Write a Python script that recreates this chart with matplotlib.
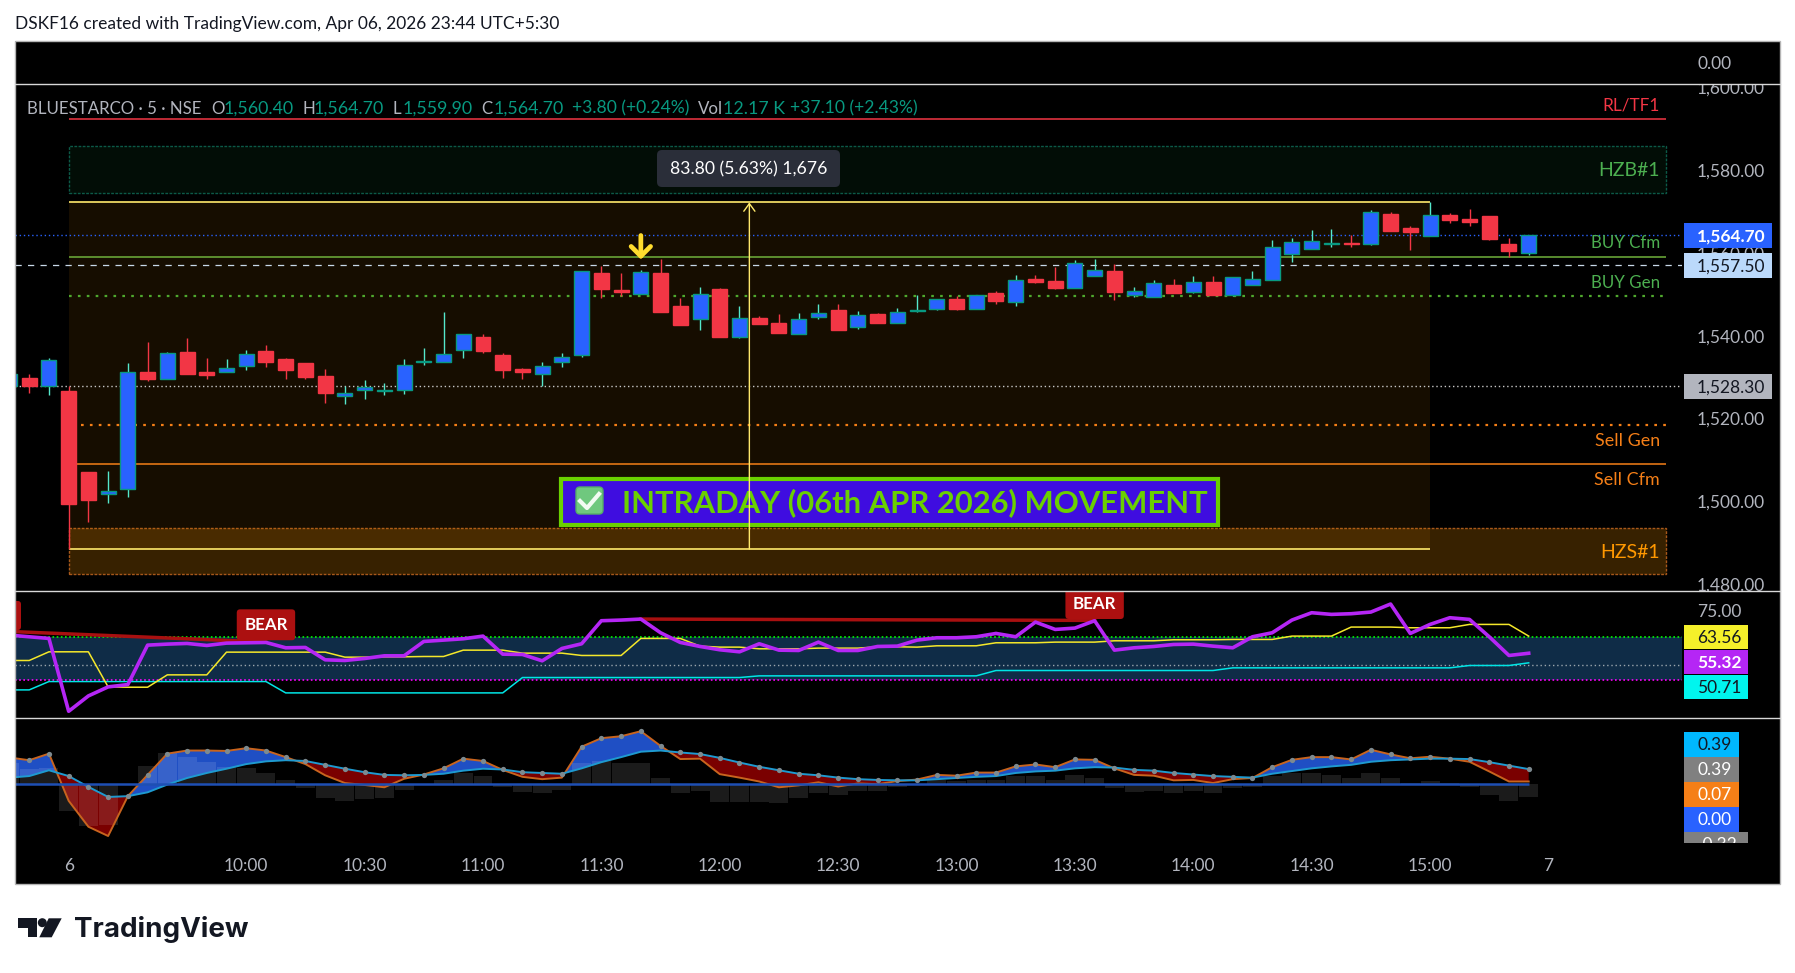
import numpy as np
import matplotlib
matplotlib.use('Agg')
import matplotlib.pyplot as plt
from matplotlib.lines import Line2D
from matplotlib.patches import Rectangle, FancyBboxPatch, Circle, Polygon
from matplotlib.transforms import Affine2D, Bbox, TransformedBbox, IdentityTransform

plt.rcParams['font.family'] = ['Lato', 'DejaVu Sans']

W, H = 1795, 973

# 5 minute bars, 0 is the 09:15 open on the 6th
bars = np.arange(-3, 75)
opens = [1528.2, 1530.3, 1528.4, 1527.1, 1507.5, 1502.3, 1503.3, 1531.7, 1529.9, 1536.5, 1531.7, 1531.8, 1533.2,
         1536.8, 1534.8, 1533.9, 1530.7, 1526.0, 1527.4, 1527.2, 1527.4, 1534.2, 1534.2, 1536.9, 1540.2, 1535.8,
         1532.4, 1531.3, 1534.0, 1535.9, 1555.6, 1551.5, 1550.6, 1555.6, 1547.7, 1544.4, 1551.8, 1540.2, 1544.8,
         1543.6, 1541.0, 1545.1, 1546.7, 1542.7, 1545.7, 1543.6, 1546.5, 1547.0, 1549.4, 1547.0, 1550.8, 1548.7,
         1554.2, 1553.7, 1552.1, 1555.0, 1556.0, 1550.4, 1549.9, 1552.7, 1551.1, 1553.5, 1550.4, 1552.8, 1554.0,
         1560.3, 1561.5, 1562.7, 1562.9, 1562.7, 1569.9, 1566.5, 1564.5, 1569.7, 1568.7, 1569.4, 1562.6, 1560.4]
highs = [1531.2, 1531.2, 1535.0, 1528.2, 1507.5, 1507.8, 1533.9, 1539.0, 1536.5, 1539.9, 1535.1, 1534.8, 1537.0,
         1538.2, 1535.1, 1533.9, 1532.4, 1528.2, 1529.8, 1529.0, 1534.8, 1537.5, 1546.2, 1541.0, 1541.0, 1536.2,
         1532.7, 1534.0, 1536.2, 1556.0, 1557.3, 1555.6, 1556.4, 1559.0, 1549.6, 1552.2, 1552.0, 1547.7, 1545.2,
         1545.7, 1546.0, 1548.1, 1548.1, 1546.5, 1546.0, 1547.2, 1550.2, 1549.3, 1550.1, 1550.2, 1551.3, 1555.1,
         1555.1, 1557.1, 1558.7, 1559.0, 1557.8, 1552.3, 1553.9, 1554.2, 1554.9, 1554.9, 1554.6, 1556.0, 1563.5,
         1564.0, 1566.0, 1566.3, 1564.7, 1570.8, 1570.4, 1567.0, 1572.7, 1570.1, 1571.1, 1569.4, 1564.1, 1564.7]
lows = [1528.2, 1526.7, 1526.2, 1488.9, 1495.5, 1500.1, 1501.6, 1529.5, 1529.9, 1531.3, 1529.9, 1531.8, 1532.3,
        1533.0, 1530.1, 1530.1, 1524.3, 1524.0, 1525.2, 1526.2, 1526.5, 1533.4, 1534.2, 1535.2, 1536.3, 1530.3,
        1530.1, 1528.2, 1533.0, 1535.4, 1549.7, 1550.1, 1550.6, 1546.3, 1543.1, 1541.9, 1540.2, 1539.9, 1543.3,
        1541.1, 1541.0, 1544.5, 1541.9, 1542.2, 1543.6, 1543.6, 1546.1, 1546.8, 1546.8, 1547.0, 1548.2, 1547.7,
        1553.2, 1551.8, 1552.1, 1555.0, 1549.0, 1549.8, 1549.9, 1550.8, 1550.9, 1550.3, 1550.1, 1552.8, 1554.0,
        1558.4, 1561.5, 1561.8, 1562.0, 1562.5, 1565.8, 1561.3, 1564.5, 1567.6, 1567.0, 1563.7, 1559.5, 1559.9]
closes = [1531.2, 1528.3, 1534.5, 1499.9, 1500.8, 1502.9, 1531.6, 1529.9, 1536.2, 1531.3, 1531.0, 1532.6, 1536.0,
          1534.2, 1532.3, 1530.6, 1526.7, 1526.6, 1528.1, 1527.35, 1533.3, 1534.35, 1536.0, 1541.0, 1536.8, 1532.3,
          1531.8, 1533.1, 1535.3, 1556.0, 1551.8, 1551.1, 1555.8, 1546.3, 1543.1, 1550.5, 1540.2, 1544.7, 1543.3,
          1541.1, 1544.4, 1545.9, 1541.9, 1545.6, 1543.6, 1546.1, 1546.7, 1549.3, 1546.9, 1550.2, 1548.9, 1553.9,
          1553.5, 1552.0, 1558.0, 1556.3, 1551.1, 1551.2, 1553.1, 1550.8, 1553.4, 1550.3, 1554.6, 1554.1, 1561.8,
          1563.1, 1563.3, 1562.9, 1562.7, 1570.5, 1565.8, 1565.6, 1569.6, 1568.5, 1568.0, 1563.9, 1561.0, 1564.7]

# RSI pane
rsi = [64.04, 63.24, 62.44, 27.42, 34.81, 39.15, 40.27, 59.22, 59.71, 60.03, 59.06, 60.19, 60.35, 60.51, 57.94,
       58.10, 52.16, 51.84, 52.80, 54.08, 54.08, 60.99, 61.63, 62.27, 63.56, 54.89, 54.73, 51.68, 57.62, 59.87,
       70.95, 71.27, 71.75, 65.17, 60.51, 58.58, 56.98, 56.01, 59.87, 56.81, 56.65, 60.67, 56.65, 56.65, 58.58,
       58.74, 61.63, 62.76, 62.76, 63.24, 64.84, 63.24, 70.31, 66.77, 67.41, 70.95, 56.81, 57.94, 58.58, 59.54,
       59.71, 58.74, 57.94, 63.24, 65.17, 71.27, 74.80, 74.00, 74.32, 75.12, 78.98, 64.84, 69.18, 72.39, 71.59,
       63.24, 54.25, 55.32]
rsi_upper = [51.84, 51.84, 56.01, 56.01, 56.01, 39.15, 38.99, 38.99, 44.93, 44.93, 44.93, 55.85, 55.85, 55.85, 55.85,
             55.85, 55.85, 53.44, 53.44, 53.60, 53.60, 53.76, 53.76, 56.81, 56.81, 56.81, 55.37, 55.37, 55.37, 54.25,
             54.25, 54.25, 62.44, 62.44, 62.44, 58.74, 58.26, 58.26, 57.46, 57.46, 57.46, 57.78, 57.78, 57.78, 58.42,
             58.42, 58.26, 58.90, 58.90, 58.90, 60.35, 60.35, 60.35, 60.67, 60.67, 60.67, 61.31, 61.31, 61.31, 61.79,
             61.79, 61.79, 61.95, 61.95, 61.95, 63.56, 63.56, 63.56, 67.90, 67.90, 67.90, 67.57, 67.57, 67.57, 69.18,
             69.18, 69.18, 63.56]
rsi_lower = [37.70, 37.70, 41.72, 41.72, 41.72, 41.72, 41.72, 41.72, 41.72, 41.72, 41.72, 41.72, 41.72, 41.72,
             36.26, 36.26, 36.26, 36.26, 36.26, 36.26, 36.26, 36.26, 36.26, 36.26, 36.26, 36.26,
             43.65, 43.65, 43.65, 43.65, 43.65, 43.65, 43.65, 43.65, 43.65, 43.65, 43.65, 43.65,
             44.45, 44.45, 44.45, 44.45, 44.45, 44.45, 44.45, 44.45, 44.45, 44.45, 44.45, 44.45,
             47.02, 47.02, 47.02, 47.02, 47.02, 47.02, 47.02, 47.02, 47.02, 47.02, 47.02, 47.02,
             48.30, 48.30, 48.30, 48.30, 48.30, 48.30, 48.30, 48.30, 48.30, 48.30, 48.30, 48.30,
             49.43, 49.43, 49.43, 50.71]

# MACD pane
macd_fast = [0.69, 0.62, 0.79, -0.43, -1.10, -1.34, -0.31, 0.24, 0.79, 0.87, 0.87, 0.86, 0.93, 0.87, 0.70, 0.52, 0.23,
             0.03, -0.02, -0.08, 0.14, 0.25, 0.41, 0.66, 0.60, 0.37, 0.19, 0.13, 0.17, 0.97, 1.19, 1.24, 1.37, 0.99,
             0.65, 0.66, 0.26, 0.17, 0.07, -0.08, -0.03, 0.05, -0.06, 0.02, 0.00, 0.08, 0.12, 0.24, 0.22, 0.30, 0.30,
             0.46, 0.51, 0.44, 0.64, 0.63, 0.41, 0.24, 0.22, 0.10, 0.11, 0.03, 0.13, 0.16, 0.44, 0.63, 0.70, 0.70,
             0.64, 0.89, 0.77, 0.67, 0.71, 0.66, 0.58, 0.33, 0.07, 0.07]
macd_slow = [0.17, 0.21, 0.36, 0.21, -0.07, -0.33, -0.31, -0.21, -0.01, 0.16, 0.29, 0.40, 0.52, 0.59, 0.62, 0.60, 0.50,
             0.40, 0.31, 0.24, 0.23, 0.24, 0.27, 0.35, 0.40, 0.38, 0.31, 0.29, 0.27, 0.41, 0.57, 0.70, 0.84, 0.87,
             0.82, 0.78, 0.68, 0.56, 0.45, 0.36, 0.27, 0.23, 0.17, 0.13, 0.11, 0.10, 0.10, 0.13, 0.16, 0.19, 0.21,
             0.29, 0.33, 0.35, 0.41, 0.44, 0.43, 0.37, 0.35, 0.29, 0.25, 0.21, 0.19, 0.17, 0.27, 0.34, 0.41, 0.46,
             0.50, 0.58, 0.62, 0.64, 0.66, 0.66, 0.65, 0.57, 0.48, 0.39]
macd_hist = [0.54, 0.38, 0.43, -0.69, -1.08, -1.05, 0.00, 0.46, 0.81, 0.70, 0.57, 0.44, 0.41, 0.28, 0.10, -0.11, -0.35,
             -0.43, -0.37, -0.35, -0.14, -0.01, 0.12, 0.30, 0.20, -0.06, -0.19, -0.22, -0.14, 0.54, 0.61, 0.54, 0.54,
             0.15, -0.22, -0.17, -0.45, -0.45, -0.45, -0.48, -0.35, -0.22, -0.27, -0.17, -0.17, -0.06, -0.03, 0.10,
             0.07, 0.12, 0.10, 0.20, 0.20, 0.12, 0.23, 0.17, -0.09, -0.19, -0.17, -0.24, -0.17, -0.22, -0.11, -0.06,
             0.20, 0.30, 0.30, 0.25, 0.15, 0.30, 0.17, 0.04, 0.07, 0.03, -0.08, -0.27, -0.43, -0.32]

price_ticks = [1480, 1500, 1520, 1540, 1560, 1580, 1600]
time_ticks = [0, 9, 15, 21, 27, 33, 39, 45, 51, 57, 63, 69, 75]
time_labels = ['6', '10:00', '10:30', '11:00', '11:30', '12:00', '12:30', '13:00', '13:30', '14:00', '14:30', '15:00', '7']

range_low, range_high = 1488.9, 1572.7
hzb = (1574.9, 1586.25)
hzs = (1482.8, 1494.0)
rl_tf1 = 1592.8
buy_cfm, buy_gen = 1559.4, 1550.1
sell_gen, sell_cfm = 1518.9, 1509.4
last_price, prev_close, day_open_line = 1564.7, 1557.5, 1528.3
rsi_bands = (62.9, 49.9, 42.7)

GREY = '#b2b5be'
UP = '#2962ff'
DOWN = '#f23645'
TEAL = '#089981'
TICK_SIZE = 12.5
px = Affine2D().scale(1, -1).translate(0, H)


def pane(top, bottom, left=15, right=1682):
    ax = fig.add_axes([left / W, 1 - bottom / H, (right - left) / W, (bottom - top) / H])
    ax.set_facecolor('black')
    for s in ax.spines.values():
        s.set_visible(False)
    ax.set_xlim(-2.72, 81.77)
    ax.set_xticks([])
    ax.yaxis.tick_right()
    ax.tick_params(axis='y', length=0, pad=10.8, labelcolor=GREY, labelsize=TICK_SIZE)
    return ax


def clip_labels(ax, top, bottom):
    box = TransformedBbox(Bbox([[1682, H - bottom], [1780, H - top]]), IdentityTransform())
    for lab in ax.get_yticklabels():
        lab.set_transform(lab.get_transform() + Affine2D().translate(0, 2))
        lab.set_clip_box(box)
        lab.set_clip_on(True)


def tag(y0, y1, text, bg, fg, right=1772, text_x=1697, bold=False):
    fig.add_artist(Rectangle((1684, y0), right - 1684, y1 - y0, transform=px, fc=bg, ec='none', zorder=6))
    fig.text(text_x, (y0 + y1) / 2 + 1, text, transform=px, color=fg, fontsize=TICK_SIZE, va='center', ha='left',
             zorder=7, fontweight='bold' if bold else 'normal')


def line_label(ax, y, text, color, size=12.4, right=1660):
    ax.annotate(text, xy=(right, 0), xycoords=px, xytext=(right, y), textcoords=px, color=color,
                fontsize=size, ha='right', va='center', annotation_clip=False)


fig = plt.figure(figsize=(W / 100, H / 100), dpi=100, facecolor='white')
fig.add_artist(Rectangle((15, 40.5), 1765, 843.5, transform=px, fc='black', ec='none', zorder=-1))
fig.add_artist(Rectangle((15, 40.5), 1765, 843.5, transform=px, fc='none', ec='#b4b4b4', lw=1, zorder=6))
fig.text(15, 23.5, 'DSKF16 created with TradingView.com, Apr 06, 2026 23:44 UTC+5:30', transform=px,
         color='#131722', fontsize=12.5, va='center')

# price pane
ax = pane(84.3, 591)
ax.set_ylim(1478.76, 1601.25)
ax.set_yticks(price_ticks)
ax.set_yticklabels(['{:,.2f}'.format(p) for p in price_ticks])
clip_labels(ax, 84.3, 591)

zone_end = 80.95
ax.add_patch(Rectangle((0, hzb[0]), zone_end, hzb[1] - hzb[0], fc=(0.13, 0.67, 0.33, 0.08), ec='#0c5a48', lw=1, ls=(0, (2, 1)), zorder=1))
ax.add_patch(Rectangle((0, hzs[0]), zone_end, hzs[1] - hzs[0], fc=(1, 0.6, 0, 0.22), ec='#a8581a', lw=1, ls=(0, (2, 1)), zorder=1))
ax.add_patch(Rectangle((0, range_low), 69, range_high - range_low, fc=(1, 0.6, 0, 0.09), ec='none', zorder=1))

ax.hlines(rl_tf1, 0, zone_end, color=DOWN, lw=1.1, zorder=2)
ax.hlines([range_low, range_high], 0, 69, color='#ffe96b', lw=1.2, zorder=2)
ax.hlines(buy_cfm, 0, zone_end, color='#6fb13c', lw=1.1, zorder=2)
ax.hlines(buy_gen, 0, zone_end, color='#4fa82e', lw=1.6, ls=(0, (1.2, 2.8)), zorder=2)
ax.hlines(sell_gen, 0.6, zone_end, color='#f57f17', lw=1.6, ls=(0, (1.2, 2.8)), zorder=2)
ax.hlines(sell_cfm, 0, zone_end, color='#f57f17', lw=1.1, zorder=2)
ax.hlines(last_price, -2.72, 81.77, color=UP, lw=1, ls=(0, (1, 2)), zorder=2)
ax.hlines(prev_close, -2.72, 81.77, color='#c8d8e8', lw=0.9, ls=(0, (5, 5)), zorder=2)
ax.hlines(day_open_line, -2.72, 81.77, color='#c8c8c8', lw=1, ls=(0, (1, 2)), zorder=2)

for x, o, hi, lo, c in zip(bars, opens, highs, lows, closes):
    up = c >= o
    ax.vlines(x, lo, hi, color='#55e8cc' if up else DOWN, lw=1, zorder=3)
    ax.bar(x, abs(c - o), bottom=min(o, c), width=0.76, color=UP if up else DOWN,
           edgecolor=TEAL if up else DOWN, lw=1, zorder=4)

# banner, pixel placed like a chart drawing
ax.add_patch(Rectangle((561, 478.5), 657, 46, transform=px, fc='#3f0de0', ec='#6ad000', lw=3, zorder=5))
ax.add_patch(FancyBboxPatch((576, 487), 27, 27, boxstyle='round,pad=0,rounding_size=4', transform=px, fc='#6fc87e', ec='#55ad68', lw=1, zorder=6))
ax.add_line(Line2D([580, 587, 599], [501, 508, 494], transform=px, color='#f2fbf2', lw=3, zorder=7))
ax.text(622, 503, 'INTRADAY (06th APR 2026) MOVEMENT', transform=px, color='#6ad000', fontsize=22.3, fontweight='bold',
        va='center', zorder=7)

ax.annotate('', xy=(34.5, range_high), xytext=(34.5, range_low),
            arrowprops=dict(arrowstyle='->,head_length=0.55,head_width=0.4', color='#ffe96b', lw=1, shrinkA=0, shrinkB=0), zorder=8)
ax.annotate('', xy=(29, 1558.9), xytext=(29, 1564.7),
            arrowprops=dict(arrowstyle='->,head_length=0.7,head_width=0.7', color='#ffdc2e', lw=3.4, shrinkA=0, shrinkB=0), zorder=8)
ax.add_patch(FancyBboxPatch((657, 150), 183, 37, boxstyle='round,pad=0,rounding_size=5', transform=px, fc='#2a2e39', ec='none', zorder=8))
ax.text(748.5, 169, '83.80 (5.63%) 1,676', transform=px, color='white', fontsize=12.7, ha='center', va='center', zorder=9)

line_label(ax, 105.3, 'RL/TF1', DOWN)
line_label(ax, 171, 'HZB#1', '#4caf50', size=14, right=1660)
line_label(ax, 243, 'BUY Cfm', '#4caf50', size=12.2)
line_label(ax, 282.7, 'BUY Gen', '#4caf50', size=12.2)
line_label(ax, 441, 'Sell Gen', '#f57f17', size=12.9)
line_label(ax, 480, 'Sell Cfm', '#f57f17', size=12.9)
line_label(ax, 552, 'HZS#1', '#ff9800', size=14, right=1660)

# symbol legend line, each piece starts where it does on the chart
segments = [('BLUESTARCO · 5 · NSE', GREY, 27, 12.2), ('O', GREY, 211.5, 12.2), ('1,560.40', TEAL, 223.4, 12.8),
            ('H', GREY, 302.5, 12.2), ('1,564.70', TEAL, 314, 12.8), ('L', GREY, 393, 12.2),
            ('1,559.90', TEAL, 403, 12.8), ('C', GREY, 481.6, 12.2), ('1,564.70', TEAL, 493.5, 12.8),
            ('+3.80 (+0.24%)', TEAL, 572, 12.6), ('Vol', GREY, 698, 12.2), ('12.17 K', TEAL, 723.4, 12.8),
            ('+37.10 (+2.43%)', TEAL, 789.8, 12.6)]
for text, col, xpos, size in segments:
    fig.text(xpos, 108.5, text, transform=px, color=col, fontsize=size, va='center', zorder=7)

# RSI pane
ax2 = pane(591, 718.3)
ax2.set_ylim(24.05, 85.24)
ax2.set_yticks([75])
ax2.set_yticklabels(['75.00'])
clip_labels(ax2, 591, 718.3)
ax2.axhspan(rsi_bands[2], rsi_bands[0], color='#0f2c47', lw=0, zorder=1)
ax2.axhline(rsi_bands[0], color='#00ff00', lw=1.2, ls=(0, (1, 1.5)), zorder=2)
ax2.axhline(rsi_bands[1], color='#9aa5ad', lw=1, ls=(0, (1, 2)), zorder=2)
ax2.axhline(rsi_bands[2], color='#ff00ff', lw=1.2, ls=(0, (1, 1.5)), zorder=2)
ax2.plot(bars, rsi_lower, color='#00e5e5', lw=1.1, zorder=3)
ax2.plot(bars, rsi_upper, color='#f5e82a', lw=1.1, zorder=3)
ax2.plot([-3, 10], [65.8, 60.7], color='#a81010', lw=2.5, zorder=3)
ax2.plot([29, 52], [71.75, 71.1], color='#a81010', lw=2.5, zorder=3)
ax2.plot(bars, rsi, color='#b526f5', lw=2.6, zorder=4)
bear_box = dict(boxstyle='round,pad=0.44,rounding_size=0.2', fc='#ac1010', ec='none')
ax2.text(10, 69.0, 'BEAR', color='white', fontsize=12.2, fontweight='bold', ha='center', va='center', bbox=bear_box, zorder=5)
ax2.text(52, 79.2, 'BEAR', color='white', fontsize=12.2, fontweight='bold', ha='center', va='center', bbox=bear_box, zorder=5, clip_on=True)
# only the right edge of an older label is still on screen
ax2.add_patch(FancyBboxPatch((-30, 601), 51, 29, boxstyle='round,pad=0,rounding_size=3', transform=px, fc='#ac1010', ec='none', zorder=5))

# MACD pane
ax3 = pane(718.3, 842.7)
ax3.set_ylim(-1.513, 1.704)
ax3.set_yticks([])
fast = np.array(macd_fast)
slow = np.array(macd_slow)
ax3.fill_between(bars, fast, slow, where=fast >= slow, interpolate=True, color='#1f4fc4', lw=0, zorder=1)
ax3.fill_between(bars, fast, slow, where=fast < slow, interpolate=True, color='#7a0000', lw=0, zorder=1)
ax3.bar(bars, macd_hist, width=0.96, color=(1, 1, 1, 0.11), zorder=2)
ax3.plot(bars, fast, color='#c8641e', lw=1.4, zorder=3)
ax3.plot(bars, slow, color='#1e9ad0', lw=1.4, zorder=3)
ax3.hlines(0, -2.72, 74, color='#1e4fb4', lw=1.8, zorder=3)
ax3.plot(bars, np.maximum(fast, slow), ls='none', marker='o', ms=3.8, mfc='#7d8a90', mec='none', zorder=4)
ax3.set_xticks(time_ticks)
ax3.set_xticklabels(time_labels)
ax3.tick_params(axis='x', length=0, pad=11.2, labelcolor=GREY, labelsize=TICK_SIZE)

# value tags on the right scale
tag(223.3, 247.7, '1,564.70', UP, 'white', bold=True)
tag(253.3, 277.7, '1,557.50', '#bbd9fb', '#131722')
tag(374, 398.7, '1,528.30', GREY, '#131722')
tag(624.5, 649, '63.56', '#f5f02a', '#131722', right=1747.6)
tag(649.5, 674, '55.32', '#b526f5', 'white', right=1747.6, bold=True)
tag(674.5, 699, '50.71', '#00f5ee', '#131722', right=1747.6)
tag(732, 756.5, '0.39', '#00b8ff', '#131722', right=1738.5)
tag(757, 781.5, '0.39', '#808080', 'white', right=1738.5)
tag(782, 806.5, '0.07', '#f57f17', 'white', right=1738.5)
tag(807, 831.5, '0.00', UP, 'white', right=1738.5)
fig.add_artist(Rectangle((1684, 832), 63.6, 10.7, transform=px, fc='#808080', ec='none', zorder=6))
minus = fig.text(1697, 845, '-0.32', transform=px, color='white', fontsize=TICK_SIZE, va='center', zorder=7)
minus.set_clip_box(TransformedBbox(Bbox([[1684, H - 842.7], [1748, H - 832]]), IdentityTransform()))
minus.set_clip_on(True)
fig.text(1697, 64, '0.00', transform=px, color=GREY, fontsize=TICK_SIZE, va='center', zorder=7)

for y in (84.3, 591, 718.3):
    fig.add_artist(Line2D([15, 1780], [y, y], transform=px, color='#d8d8d8', lw=1, zorder=6))

# logo
fig.add_artist(Polygon([(17.7, 918.3), (37.3, 918.3), (37.3, 937.3), (28.3, 937.3), (28.3, 927.7), (17.7, 927.7)], transform=px, fc='#131722', ec='none'))
fig.add_artist(Circle((42.3, 922.7), 4.5, transform=px, fc='#131722', ec='none'))
fig.add_artist(Polygon([(48.7, 918.3), (61.7, 918.3), (51.7, 937.3), (39.3, 937.3)], transform=px, fc='#131722', ec='none'))
fig.text(74, 937.3, 'TradingView', transform=px, color='#131722', fontsize=20, fontweight='bold', family='Inter', va='baseline')

fig.savefig('out.png', dpi=100)
